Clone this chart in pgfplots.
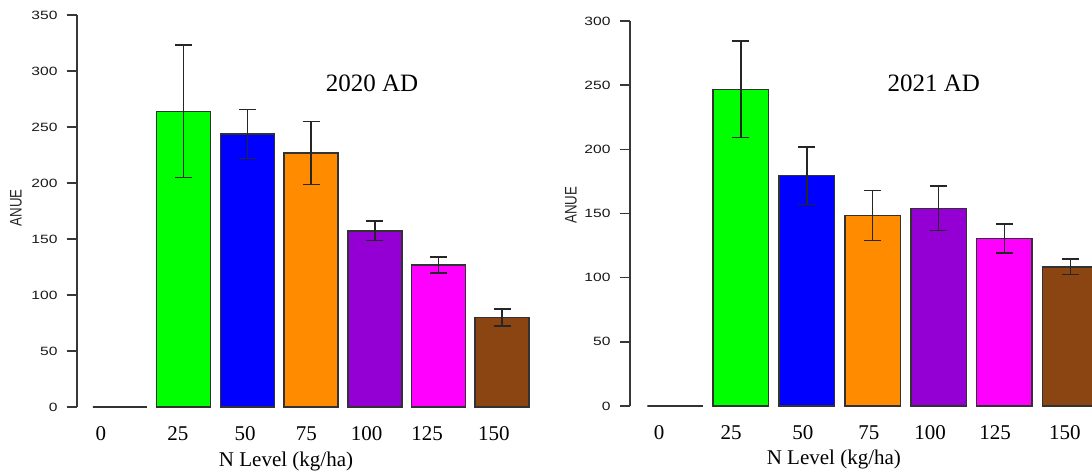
\documentclass[border=0pt]{standalone}
\usepackage{fontspec}
\setmainfont{Liberation Serif}
\newfontfamily\arial{Liberation Sans}
\usepackage{graphicx}
\usepackage{pgfplots}
\pgfplotsset{compat=1.18}
\definecolor{cgreen}{RGB}{0,255,0}
\definecolor{cblue}{RGB}{0,0,255}
\definecolor{corange}{RGB}{255,140,0}
\definecolor{cpurple}{RGB}{148,0,211}
\definecolor{cmagenta}{RGB}{255,0,255}
\definecolor{cbrown}{RGB}{139,69,19}
\definecolor{axisgray}{RGB}{55,55,55}
\definecolor{edgegray}{RGB}{50,50,50}
\newcommand\sx[1]{\scalebox{1.3}[1]{#1}}
\pgfplotsset{
 panel/.style={
  scale only axis, ybar, bar shift=0pt,
  axis y line*=left, axis x line*=bottom,
  x axis line style={draw=none},
  y axis line style={draw=axisgray, line width=1.5pt},
  xtick style={draw=none},
  ytick style={draw=axisgray, line width=1.5pt},
  tick align=outside, major tick length=10pt,
  ymin=0, clip=false,
  xticklabels={0,25,50,75,100,125,150},
  xticklabel style={font=\fontsize{21}{21}\selectfont, anchor=center, yshift=-17pt},
  yticklabel style={font=\arial\fontsize{12}{12}\selectfont, text=black!90, xshift=-6pt},
  xlabel style={font=\fontsize{21}{21}\selectfont, anchor=center},
  ylabel style={font=\arial\fontsize{13.3}{14}\selectfont, anchor=center, text=black!85},
  every axis plot/.append style={draw=edgegray, line width=1.5pt},
  error bars/y dir=both, error bars/y explicit,
  error bars/error bar style={line width=1.5pt, black!85},
  error bars/error mark options={rotate=90, mark size=8.5pt, line width=1.5pt, black!85},
 }
}
\begin{document}
\begin{tikzpicture}
\useasboundingbox (0,0) rectangle (1092pt,474pt);
% ---------- 2020 ----------
\begin{axis}[panel,
  at={(77pt,67pt)}, anchor=south west,
  width=463.4pt, height=392pt,
  xmin=-0.675, xmax=6.6, ymax=350,
  bar width=54pt,
  xtick={-0.301,0.907,1.963,2.925,3.873,4.823,5.868},
  ytick={0,50,100,150,200,250,300,350},
  yticklabels={\sx{0},\sx{50},\sx{100},\sx{150},\sx{200},\sx{250},\sx{300},\sx{350}},
  xlabel={N Level (kg/ha)},
  xlabel style={at={(rel axis cs:0.451,0)}, yshift=-54pt},
  ylabel={\scalebox{1}[1.26]{ANUE}},
  ylabel style={at={(rel axis cs:0,0.508)}, yshift=61pt},
]
\addplot[fill=white, error bars/y dir=none] coordinates {(0,0)};
\addplot[fill=cgreen] coordinates {(1,264.0) +- (0,59.0)};
\addplot[fill=cblue] coordinates {(2,243.7) +- (0,22.0)};
\addplot[fill=corange] coordinates {(3,226.7) +- (0,28.0)};
\addplot[fill=cpurple] coordinates {(4,157.3) +- (0,8.8)};
\addplot[fill=cmagenta] coordinates {(5,126.8) +- (0,7.0)};
\addplot[fill=cbrown] coordinates {(6,79.8) +- (0,7.5)};
\node[font=\fontsize{25}{25}\selectfont] at (axis cs:3.956,289) {2020 AD};
\end{axis}
% ---------- 2021 ----------
\begin{axis}[panel,
  at={(630pt,68pt)}, anchor=south west,
  width=486.5pt, height=385pt,
  xmin=-0.683, xmax=6.7, ymax=300,
  bar width=55.5pt,
  xtick={-0.240,0.853,1.942,2.941,3.870,4.856,5.915},
  ytick={0,50,100,150,200,250,300},
  yticklabels={\sx{0},\sx{50},\sx{100},\sx{150},\sx{200},\sx{250},\sx{300}},
  xlabel={N Level (kg/ha)},
  xlabel style={at={(rel axis cs:0.419,0)}, yshift=-53pt},
  ylabel={\scalebox{1}[1.26]{ANUE}},
  ylabel style={at={(rel axis cs:0,0.522)}, yshift=59pt},
]
\addplot[fill=white, error bars/y dir=none] coordinates {(0,0)};
\addplot[fill=cgreen] coordinates {(1,246.8) +- (0,37.7)};
\addplot[fill=cblue] coordinates {(2,179.5) +- (0,22.4)};
\addplot[fill=corange] coordinates {(3,148.5) +- (0,19.5)};
\addplot[fill=cpurple] coordinates {(4,154.0) +- (0,17.3)};
\addplot[fill=cmagenta] coordinates {(5,130.6) +- (0,11.4)};
\addplot[fill=cbrown] coordinates {(6,108.5) +- (0,5.9)};
\node[font=\fontsize{25}{25}\selectfont] at (axis cs:3.927,251.5) {2021 AD};
\end{axis}
\end{tikzpicture}
\end{document}
